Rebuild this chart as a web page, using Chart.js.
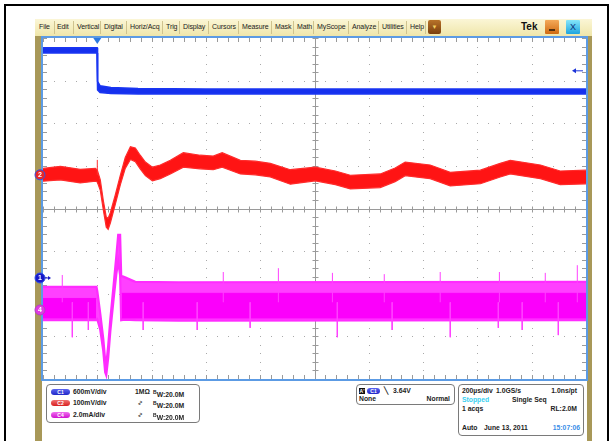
<!DOCTYPE html>
<html>
<head>
<meta charset="utf-8">
<script src="https://cdn.jsdelivr.net/npm/chart.js@4"></script>
<style>
html, body { margin: 0; padding: 0; width: 612px; height: 441px; overflow: hidden; background: #fff;
  font-family: "Liberation Sans", Arial, sans-serif; }
.a { position: absolute; }
#frameT { left: 4px; top: 4px; width: 605px; height: 2px; background: #000; }
#frameL { left: 4px; top: 4px; width: 2px; height: 437px; background: #000; }
#frameR { left: 607px; top: 4px; width: 2px; height: 437px; background: #000; }
#khakiL { left: 35px; top: 36px; width: 7px; height: 405px; background: #a89858; }
#khakiR { left: 587px; top: 36px; width: 5px; height: 405px; background: #a89858; }
#menu { left: 35px; top: 19px; width: 557px; height: 17px; background: linear-gradient(#fbf6d6, #efe6aa); }
.mi { position: absolute; top: 23px; font-size: 7px; letter-spacing: -0.1px; line-height: 8px; color: #222; white-space: nowrap; }
.sep { position: absolute; top: 21px; width: 1px; height: 13px; background: #cfc38e; }
#drop { left: 428px; top: 20px; width: 13px; height: 14px; border-radius: 2px; background: linear-gradient(#b8732a, #7a3e0c);
  color: #f3d060; font-size: 6px; line-height: 14px; text-align: center; }
#tek { left: 521px; top: 21px; font-size: 10px; font-weight: bold; color: #111; }
#minb { left: 545px; top: 20px; width: 14px; height: 14px; background: linear-gradient(#f4aa5a, #d06a10); border-radius: 1px; }
#minb div { position: absolute; left: 4px; top: 9px; width: 6px; height: 2px; background: #503010; }
#xb { left: 566px; top: 20px; width: 14px; height: 14px; background: linear-gradient(#86e6fa, #1ea4de); border-radius: 1px;
  color: #10307a; font-size: 9px; line-height: 14px; text-align: center; }
#wrap { position: absolute; left: 0; top: 0; width: 612px; height: 441px; z-index: 1; }
.panel { position: absolute; background: #fff; border: 1px solid #7a7a7a; border-radius: 4px; z-index: 2;
  font-weight: bold; font-size: 6.8px; color: #222; }
.t { position: absolute; white-space: nowrap; line-height: 8px; }
.pill { position: absolute; height: 6px; border-radius: 3px; color: #fff; font-size: 5px; line-height: 6px; text-align: center; }
.ac { display: inline-block; transform: rotate(90deg); font-weight: normal; }
sup { font-size: 5px; vertical-align: 3px; }
</style>
</head>
<body>
<div class="a" id="frameT"></div><div class="a" id="frameL"></div><div class="a" id="frameR"></div>
<div class="a" id="khakiL"></div><div class="a" id="khakiR"></div>
<div class="a" id="menu"></div>
<span class="mi" style="left:39px">File</span><span class="sep" style="left:54px"></span>
<span class="mi" style="left:57px">Edit</span><span class="sep" style="left:73px"></span>
<span class="mi" style="left:77px">Vertical</span><span class="sep" style="left:100px"></span>
<span class="mi" style="left:104px">Digital</span><span class="sep" style="left:126px"></span>
<span class="mi" style="left:130px">Horiz/Acq</span><span class="sep" style="left:162px"></span>
<span class="mi" style="left:166px">Trig</span><span class="sep" style="left:179px"></span>
<span class="mi" style="left:183px">Display</span><span class="sep" style="left:208px"></span>
<span class="mi" style="left:212px">Cursors</span><span class="sep" style="left:238px"></span>
<span class="mi" style="left:242px">Measure</span><span class="sep" style="left:271px"></span>
<span class="mi" style="left:275px">Mask</span><span class="sep" style="left:293px"></span>
<span class="mi" style="left:297px">Math</span><span class="sep" style="left:313px"></span>
<span class="mi" style="left:317px">MyScope</span><span class="sep" style="left:348px"></span>
<span class="mi" style="left:352px">Analyze</span><span class="sep" style="left:378px"></span>
<span class="mi" style="left:382px">Utilities</span><span class="sep" style="left:406px"></span>
<span class="mi" style="left:410px">Help</span><span class="sep" style="left:425px"></span>
<div class="a" id="drop">&#9660;</div>
<div class="a" id="tek">Tek</div>
<div class="a" id="minb"><div></div></div>
<div class="a" id="xb">X</div>

<div id="wrap"><canvas id="scope"></canvas></div>

<div class="panel" style="left:46px;top:384px;width:152px;height:37px">
  <div class="pill" style="left:4px;top:4px;width:19px;background:linear-gradient(#5a64f0,#2028c8)">C1</div>
  <div class="t" style="left:26px;top:3px">600mV/div</div>
  <div class="t" style="left:88px;top:3px">1M&Omega;</div>
  <div class="t" style="left:106px;top:3px"><sup>B</sup>W:20.0M</div>
  <div class="pill" style="left:4px;top:15px;width:19px;background:linear-gradient(#f07070,#d82020)">C2</div>
  <div class="t" style="left:26px;top:14px">100mV/div</div>
  <div class="t" style="left:90px;top:14px"><span class="ac">&#8767;</span></div>
  <div class="t" style="left:106px;top:14px"><sup>B</sup>W:20.0M</div>
  <div class="pill" style="left:4px;top:27px;width:19px;background:linear-gradient(#f070f0,#d010d0)">C4</div>
  <div class="t" style="left:26px;top:26px">2.0mA/div</div>
  <div class="t" style="left:90px;top:26px"><span class="ac">&#8767;</span></div>
  <div class="t" style="left:106px;top:26px"><sup>B</sup>W:20.0M</div>
</div>

<div class="panel" style="left:356px;top:384px;width:97px;height:19px">
  <div class="pill" style="left:2px;top:3px;width:6px;border-radius:0;background:#111">A'</div>
  <div class="pill" style="left:10px;top:3px;width:13px;background:linear-gradient(#5a64f0,#2028c8)">C1</div>
  <div class="t" style="left:27px;top:2px">&#9586;</div>
  <div class="t" style="left:36px;top:2px">3.64V</div>
  <div class="t" style="left:2px;top:10px">None</div>
  <div class="t" style="right:4px;top:10px">Normal</div>
</div>

<div class="panel" style="left:458px;top:384px;width:124px;height:50px">
  <div class="t" style="left:3px;top:2px">200&micro;s/div</div>
  <div class="t" style="left:37px;top:2px">1.0GS/s</div>
  <div class="t" style="right:6px;top:2px">1.0ns/pt</div>
  <div class="t" style="left:3px;top:11px;color:#3ad0f0">Stopped</div>
  <div class="t" style="left:53px;top:11px">Single Seq</div>
  <div class="t" style="left:3px;top:20px">1 acqs</div>
  <div class="t" style="right:6px;top:20px">RL:2.0M</div>
  <div class="t" style="left:3px;top:39px">Auto</div>
  <div class="t" style="left:25px;top:39px">June 13, 2011</div>
  <div class="t" style="right:3px;top:39px;color:#3a8ee8">15:07:06</div>
</div>

<script>
// time in microseconds relative to trigger, levels in screen divisions (centre = 0)
const xMin = -200, xMax = 1800, xDiv = 200;
const yMin = -4, yMax = 4, yDiv = 1;

// C1 (blue) - trace centre and half noise band
const c1T    = [-200, -1, 1, 10, 50, 150, 400, 1800];
const c1Mid  = [3.71, 3.71, 2.88, 2.80, 2.77, 2.75, 2.745, 2.745];
const c1Half = [0.06, 0.06, 0.10, 0.08, 0.07, 0.065, 0.06, 0.06];

// C2 (red)
const c2T = [-200, -136, -63, -7, 0, 11, 22, 33, 40, 48, 66, 85, 103, 122, 140, 158, 177, 203, 232, 269,
  317, 379, 427, 460, 527, 582, 637, 711, 803, 877, 932, 1042, 1097, 1134, 1226, 1300, 1411, 1484, 1521, 1632, 1705, 1800];
const c2Mid = [0.79, 0.83, 0.76, 0.79, 0.76, 0.55, 0.08, -0.32, -0.36, -0.22, 0.20, 0.67, 1.07, 1.30, 1.26, 1.09, 0.93, 0.81, 0.86, 0.97,
  1.14, 1.09, 1.07, 1.14, 0.97, 0.95, 0.90, 0.74, 0.81, 0.72, 0.62, 0.65, 0.79, 0.93, 0.86, 0.69, 0.74, 0.90, 0.97, 0.86, 0.72, 0.74];
const c2Half = [0.15, 0.16, 0.16, 0.15, 0.14, 0.12, 0.11, 0.12, 0.13, 0.12, 0.11, 0.11, 0.13, 0.15, 0.16, 0.16, 0.16, 0.16, 0.16, 0.16,
  0.17, 0.16, 0.16, 0.17, 0.16, 0.16, 0.16, 0.17, 0.16, 0.16, 0.16, 0.16, 0.16, 0.16, 0.16, 0.16, 0.16, 0.16, 0.16, 0.16, 0.16, 0.16];
const c2SpikeT = [0];
const c2SpikeTip = [1.14];

// C4 (magenta) - outer envelope, dense core (before / after the swing), and glitches
const c4T    = [-200, -3, 0, 11, 22, 29, 33, 40, 48, 59, 70, 77, 84, 88, 100, 140, 300, 1800];
const c4Mid  = [-2.23, -2.23, -2.27, -2.66, -3.20, -3.70, -3.79, -3.37, -2.74, -2.03, -1.33, -0.93, -1.09, -2.10, -2.11, -2.17, -2.18, -2.17];
const c4Half = [0.39, 0.39, 0.33, 0.19, 0.14, 0.14, 0.12, 0.14, 0.14, 0.16, 0.21, 0.31, 0.47, 0.52, 0.50, 0.45, 0.45, 0.45];
const c4CoreT    = [-200, -4, 90, 1800];
const c4CoreMid  = [-2.34, -2.34, -2.28, -2.28];
const c4CoreHalf = [0.23, 0.23, 0.29, 0.29];
const c4UpT     = [-129, 464, 667, 866, 1057, 1263, 1481, 1650, 1768];
const c4UpTip   = [-1.56, -1.49, -1.40, -1.51, -1.54, -1.49, -1.49, -1.51, -1.33];
const c4DownT   = [-92, -33, 169, 368, 563, 884, 1086, 1300, 1477, 1565, 1698];
const c4DownTip = [-3.02, -2.85, -2.85, -2.85, -2.80, -3.02, -2.85, -3.02, -2.80, -2.85, -2.97];

// channel ground markers and trigger
const c1Ground = -1.63, c2Ground = 0.79, c4Ground = -2.38;
const trigTime = 0, trigLevel = 3.23;

// two datasets (lower and upper edge) filled between; lower `order` is drawn on top
function band(t, mid, half, fill, edge, w, order) {
  const lo = t.map((x, i) => ({ x: x, y: mid[i] - half[i] }));
  const hi = t.map((x, i) => ({ x: x, y: mid[i] + half[i] }));
  return [
    { data: lo, borderColor: edge, borderWidth: w, fill: false, order: order },
    { data: hi, borderColor: edge, borderWidth: w, backgroundColor: fill, fill: '-1', order: order }
  ];
}

function spikes(t, base, tip, color) {
  const pts = [];
  t.forEach((x, i) => { pts.push({ x: x, y: base }, { x: x, y: tip[i] }, { x: x, y: null }); });
  return { data: pts, borderColor: color, borderWidth: 1, fill: false, spanGaps: false, order: 0 };
}

const scopeGrid = {
  id: 'scopeGrid',
  beforeDatasetsDraw(chart) {
    const { ctx, chartArea: a, scales: { x, y } } = chart;
    const xc = (xMin + xMax) / 2, yc = 0;
    ctx.save();
    ctx.fillStyle = '#fff';
    ctx.fillRect(a.left, a.top, a.right - a.left, a.bottom - a.top);
    // dotted graticule
    ctx.fillStyle = '#a9a9a9';
    for (let tv = xMin + xDiv; tv < xMax; tv += xDiv) {
      if (tv === xc) continue;
      const px = Math.round(x.getPixelForValue(tv));
      for (let k = 0; k <= (yMax - yMin) * 5; k++) {
        ctx.fillRect(px, Math.round(y.getPixelForValue(yMin + k * yDiv / 5)), 1, 1);
      }
    }
    for (let yv = yMin + yDiv; yv < yMax; yv += yDiv) {
      if (yv === yc) continue;
      const py = Math.round(y.getPixelForValue(yv));
      for (let k = 0; k <= (xMax - xMin) / xDiv * 5; k++) {
        ctx.fillRect(Math.round(x.getPixelForValue(xMin + k * xDiv / 5)), py, 1, 1);
      }
    }
    // centre cross with minor ticks
    ctx.strokeStyle = '#9a9a9a';
    ctx.lineWidth = 1;
    const cx = Math.round(x.getPixelForValue(xc)) + 0.5, cy = Math.round(y.getPixelForValue(yc)) + 0.5;
    ctx.beginPath();
    ctx.moveTo(cx, a.top); ctx.lineTo(cx, a.bottom);
    ctx.moveTo(a.left, cy); ctx.lineTo(a.right, cy);
    for (let k = 0; k <= (xMax - xMin) / xDiv * 5; k++) {
      const px = Math.round(x.getPixelForValue(xMin + k * xDiv / 5)) + 0.5;
      ctx.moveTo(px, cy - 3); ctx.lineTo(px, cy + 3);
      ctx.moveTo(px, a.top); ctx.lineTo(px, a.top + 4);
      ctx.moveTo(px, a.bottom); ctx.lineTo(px, a.bottom - 4);
    }
    for (let k = 0; k <= (yMax - yMin) * 5; k++) {
      const py = Math.round(y.getPixelForValue(yMin + k * yDiv / 5)) + 0.5;
      ctx.moveTo(cx - 3, py); ctx.lineTo(cx + 3, py);
      ctx.moveTo(a.left, py); ctx.lineTo(a.left + 4, py);
      ctx.moveTo(a.right, py); ctx.lineTo(a.right - 4, py);
    }
    ctx.stroke();
    ctx.restore();
  },
  afterDatasetsDraw(chart) {
    const { ctx, chartArea: a, scales: { x, y } } = chart;
    ctx.save();
    ctx.strokeStyle = '#5c9be4';
    ctx.lineWidth = 2;
    ctx.strokeRect(a.left - 1, a.top - 1, a.right - a.left + 2, a.bottom - a.top + 2);
    // trigger position marker
    const tx = x.getPixelForValue(trigTime);
    ctx.fillStyle = '#2a78e0';
    ctx.beginPath();
    ctx.moveTo(tx - 4, a.top); ctx.lineTo(tx + 4, a.top); ctx.lineTo(tx, a.top + 6); ctx.closePath();
    ctx.fill();
    // trigger level arrow
    const ty = y.getPixelForValue(trigLevel);
    ctx.strokeStyle = '#1c34d8'; ctx.fillStyle = '#1c34d8'; ctx.lineWidth = 1;
    ctx.beginPath(); ctx.moveTo(a.right - 3, ty); ctx.lineTo(a.right - 12, ty); ctx.stroke();
    ctx.beginPath(); ctx.moveTo(a.right - 14, ty); ctx.lineTo(a.right - 10, ty - 2.5); ctx.lineTo(a.right - 10, ty + 2.5); ctx.closePath(); ctx.fill();
    // channel markers
    const mk = (v, label, fill, ring) => {
      const py = y.getPixelForValue(v), px = a.left - 3;
      ctx.beginPath(); ctx.arc(px, py, 5, 0, Math.PI * 2);
      ctx.fillStyle = fill; ctx.fill();
      ctx.lineWidth = 1; ctx.strokeStyle = ring; ctx.stroke();
      ctx.fillStyle = '#fff'; ctx.font = 'bold 7px "Liberation Sans", Arial';
      ctx.textAlign = 'center'; ctx.textBaseline = 'middle';
      ctx.fillText(label, px, py + 0.5);
      return py;
    };
    const p1 = mk(c1Ground, '1', '#1818c8', '#3050e8');
    ctx.strokeStyle = '#1818c8'; ctx.fillStyle = '#1818c8';
    ctx.beginPath(); ctx.moveTo(a.left + 2, p1); ctx.lineTo(a.left + 6, p1); ctx.stroke();
    ctx.beginPath(); ctx.moveTo(a.left + 8, p1); ctx.lineTo(a.left + 5, p1 - 2); ctx.lineTo(a.left + 5, p1 + 2); ctx.closePath(); ctx.fill();
    mk(c2Ground, '2', '#e82828', '#3050e8');
    mk(c4Ground, '4', '#e03ce0', '#b040c8');
    ctx.restore();
  }
};

const datasets = [
  ...band(c1T, c1Mid, c1Half, '#1530ee', '#1a36f2', 1.5, 3),
  ...band(c2T, c2Mid, c2Half, '#ff1414', '#ff2c2c', 1.2, 3),
  ...band(c4T, c4Mid, c4Half, '#ff40ff', '#ff2cff', 2.2, 2),
  ...band(c4CoreT.slice(0, 2), c4CoreMid.slice(0, 2), c4CoreHalf.slice(0, 2), '#fb00fb', '#fb00fb', 1, 1),
  ...band(c4CoreT.slice(2), c4CoreMid.slice(2), c4CoreHalf.slice(2), '#fb00fb', '#fb00fb', 1, 1),
  spikes(c4UpT, -2.2, c4UpTip, '#ff40ff'),
  spikes(c4DownT, -2.2, c4DownTip, '#ff40ff'),
  spikes(c2SpikeT, c2Ground, c2SpikeTip, '#ff3030')
];

new Chart(document.getElementById('scope'), {
  type: 'line',
  data: { datasets: datasets },
  options: {
    responsive: true,
    maintainAspectRatio: false,
    animation: false,
    elements: { point: { radius: 0 }, line: { tension: 0 } },
    layout: { padding: { left: 43, top: 38, right: 26, bottom: 62 } },
    plugins: { legend: { display: false }, tooltip: { enabled: false } },
    scales: {
      x: { type: 'linear', min: xMin, max: xMax, display: false },
      y: { type: 'linear', min: yMin, max: yMax, display: false }
    }
  },
  plugins: [scopeGrid]
});
</script>
</body>
</html>
